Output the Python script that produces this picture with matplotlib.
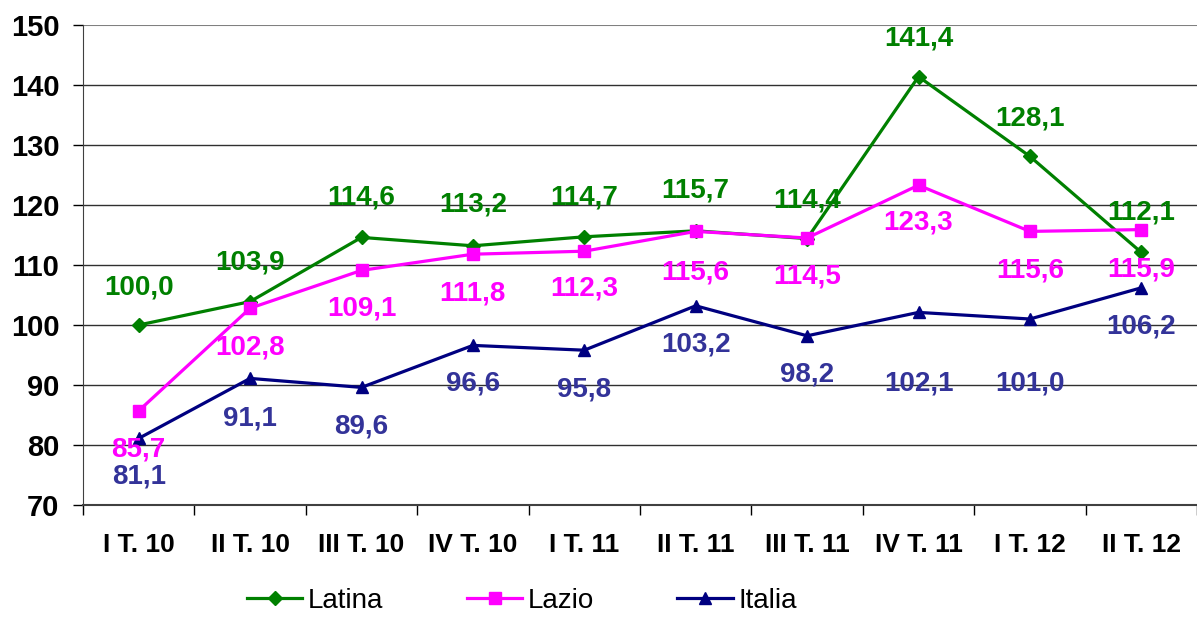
import matplotlib.pyplot as plt
import numpy as np

plt.rcParams['font.family'] = ['Liberation Sans', 'DejaVu Sans']

quarters = ["I T. 10", "II T. 10", "III T. 10", "IV T. 10", "I T. 11",
            "II T. 11", "III T. 11", "IV T. 11", "I T. 12", "II T. 12"]
latina = [100.0, 103.9, 114.6, 113.2, 114.7, 115.7, 114.4, 141.4, 128.1, 112.1]
lazio = [85.7, 102.8, 109.1, 111.8, 112.3, 115.6, 114.5, 123.3, 115.6, 115.9]
italia = [81.1, 91.1, 89.6, 96.6, 95.8, 103.2, 98.2, 102.1, 101.0, 106.2]

# where the value labels sit (y in data units)
latina_lbl = [106.3, 110.5, 121.2, 120.0, 121.2, 122.5, 120.8, 147.8, 134.5, 118.8]
lazio_lbl = [79.3, 96.3, 102.7, 105.3, 106.0, 108.8, 108.0, 117.0, 109.0, 109.3]
italia_lbl = [74.7, 84.5, 83.0, 90.2, 89.2, 96.7, 91.7, 90.3, 90.3, 99.7]

W, H = 1197, 617
fig = plt.figure(figsize=(W / 100, H / 100), dpi=100)
ax = fig.add_axes([83 / W, (H - 505) / H, (W - 83) / W, 480 / H])

x = np.arange(len(quarters)) + 0.5
series = [
    ("Latina", latina, latina_lbl, "#008000", "#008000", "D", 7),
    ("Lazio", lazio, lazio_lbl, "#FF00FF", "#FF00FF", "s", 8),
    ("Italia", italia, italia_lbl, "#000080", "#333399", "^", 9),
]
for name, vals, lbl, col, tcol, mk, ms in series:
    ax.plot(x, vals, color=col, lw=2.3, marker=mk, ms=ms, label=name, zorder=3)
    for xi, v, ly in zip(x, vals, lbl):
        ax.text(xi, ly, f"{v:.1f}".replace(".", ","), color=tcol,
                fontsize=20, fontweight="bold", ha="center", va="center", zorder=4)

ax.set_xlim(0, len(quarters))
ax.set_ylim(70, 150)
ax.set_yticks(range(70, 151, 10))
ax.tick_params(axis="y", labelsize=21, length=7, width=1, direction="out", pad=10)
for t in ax.get_yticklabels():
    t.set_fontweight("bold")

ax.set_xticks(np.arange(0, len(quarters) + 1), minor=False)
ax.set_xticklabels([])
ax.set_xticks(x, minor=True)
ax.set_xticklabels(quarters, minor=True, fontsize=19, fontweight="bold")
ax.tick_params(axis="x", which="major", length=7, width=1, direction="out")
ax.tick_params(axis="x", which="minor", length=0, pad=20)

for yv in range(80, 150, 10):
    ax.axhline(yv, color="#303030", lw=1, zorder=1)
ax.axhline(150, color="#808080", lw=1.5, zorder=1)

ax.spines["top"].set_visible(False)
ax.spines["right"].set_visible(False)
ax.spines["left"].set_color("#404040")
ax.spines["bottom"].set_color("#404040")
ax.spines["bottom"].set_linewidth(1.5)

fig.legend(loc="center", bbox_to_anchor=(522 / W, 1 - 601 / H), ncol=3,
           frameon=False, fontsize=20, handlelength=2.0, columnspacing=3.0,
           handletextpad=0.2)

fig.savefig("out.png", dpi=100)
